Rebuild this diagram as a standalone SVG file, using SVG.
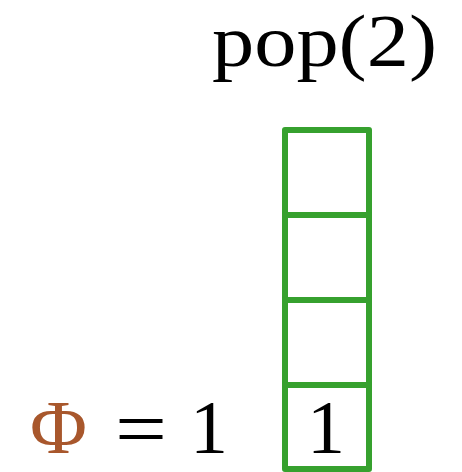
<svg xmlns="http://www.w3.org/2000/svg" width="462" height="472" viewBox="0 0 462 472">
<style>
.t{font-family:"Liberation Serif","DejaVu Serif",serif;fill:#000}
.cell{fill:#fff;stroke:#36a12e;stroke-width:6;stroke-linejoin:round}
</style>
<rect width="462" height="472" fill="#fff"/>
<g id="op"><text class="t" x="212" y="66" font-size="74" textLength="225" lengthAdjust="spacingAndGlyphs">pop(2)</text></g>
<g id="stack">
<rect class="cell" x="285" y="130" width="84" height="85"/>
<rect class="cell" x="285" y="215" width="84" height="85"/>
<rect class="cell" x="285" y="300" width="84" height="85"/>
<rect class="cell" x="285" y="385" width="84" height="84"/>
<text class="t" x="326" y="453" font-size="76" text-anchor="middle">1</text>
</g>
<g id="potential">
<text class="t" x="30" y="453" font-size="76" textLength="57" lengthAdjust="spacingAndGlyphs" style="fill:#a8572c">Φ</text>
<text class="t" x="115" y="456" font-size="80" textLength="52" lengthAdjust="spacingAndGlyphs">=</text>
<text class="t" x="209" y="453" font-size="76" text-anchor="middle">1</text>
</g>
</svg>
